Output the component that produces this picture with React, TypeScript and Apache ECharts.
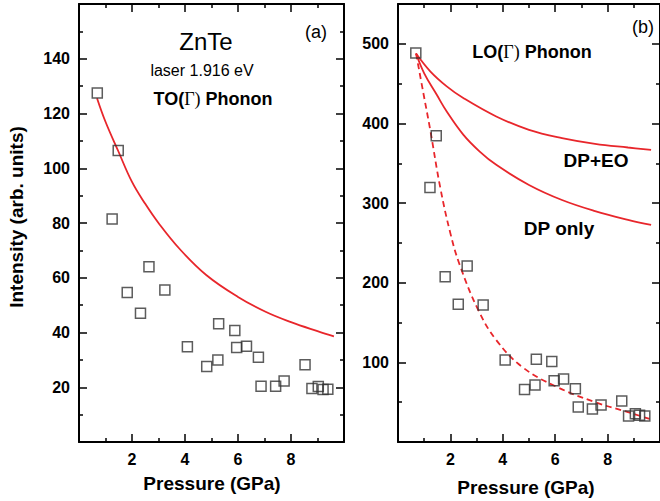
import React, { useEffect, useRef } from "react";
import * as echarts from "echarts";

// ---- data ----
const toPressure = [0.69, 1.48, 1.25, 1.82, 2.64, 2.32, 3.24, 4.09, 4.82, 5.24, 5.27, 5.88, 5.95, 6.32, 6.77, 6.87, 7.42, 7.74, 8.53, 8.79, 9.03, 9.21, 9.39];
const toIntensity = [127.5, 106.5, 81.5, 54.6, 64, 47, 55.5, 34.8, 27.6, 30, 43.2, 40.7, 34.5, 35, 31, 20.4, 20.4, 22.3, 28.2, 19.5, 20.3, 19.2, 19.3];

const loPressure = [0.68, 1.46, 1.22, 1.8, 2.64, 2.3, 3.25, 4.09, 4.83, 5.23, 5.28, 5.87, 5.96, 6.32, 6.77, 6.88, 7.42, 7.75, 8.54, 8.8, 9.06, 9.22, 9.42];
const loIntensity = [488.5, 384.5, 319.5, 207.5, 221, 173, 172, 103, 66, 71.5, 104, 101, 77, 79, 67, 44, 41.5, 46.5, 51.5, 32.5, 35.5, 33.5, 32.5];

const toFitX = [0.68, 1.0, 1.48, 2.0, 2.5, 3.0, 3.8, 4.8, 6.0, 7.06, 8.0, 9.0, 9.62];
const toFitY = [125.6, 117, 106.3, 95, 87, 80, 70.5, 61, 53, 47.5, 43.8, 40.5, 38.6];

const dpeoX = [0.69, 1.23, 1.86, 2.49, 3.75, 5.0, 6.26, 7.52, 8.78, 9.66];
const dpeoY = [487.8, 465.5, 446.6, 432, 408.8, 392, 381.6, 374.4, 369.8, 366.9];

const dpX = [0.69, 1.0, 1.48, 1.86, 2.49, 3.12, 3.75, 5.0, 6.26, 7.52, 8.78, 9.66];
const dpY = [487.8, 463, 436, 415, 386, 364.7, 348, 322.8, 303.9, 290, 279, 272.5];

const fitLoX = [0.69, 0.98, 1.23, 1.61, 2.0, 2.36, 3.06, 3.75, 4.75, 6.01, 7.52, 8.78, 9.6];
const fitLoY = [487.8, 436, 392, 320, 262, 222, 166, 128, 94, 70, 50, 37.5, 29];

const xTicks = { min: 0, max: 10, interval: 2 };
const yTicksA = { min: 0, max: 160, interval: 20 };
const yTicksB = { min: 0, max: 550, interval: 100 };

const FONT = "'Liberation Sans', Arial, Helvetica, sans-serif";
const RED = "#e8262b";

function zip(xs: number[], ys: number[]) {
  return xs.map((x, i) => [x, ys[i]]);
}

function axisBase(showLabel: boolean) {
  return {
    type: "value" as const,
    axisLine: { show: true, onZero: false, lineStyle: { color: "#000", width: 2 } },
    axisTick: { show: true, inside: true, length: 8, lineStyle: { color: "#000", width: 1.5 } },
    minorTick: { show: true, splitNumber: 2, length: 4, lineStyle: { color: "#000", width: 1.5 } },
    splitLine: { show: false },
    minorSplitLine: { show: false },
    axisLabel: {
      show: showLabel,
      showMinLabel: false,
      showMaxLabel: false,
      fontSize: 16,
      fontWeight: "bold" as const,
      color: "#000",
      fontFamily: FONT,
      margin: 9,
    },
  };
}

function phononText(prefix: string) {
  return {
    text: `{b|${prefix}(}{g|Γ)}{b| Phonon}`,
    rich: {
      b: { fontFamily: FONT, fontSize: 18, fontWeight: "bold", fill: "#000" },
      g: { fontFamily: "'Liberation Serif', 'DejaVu Serif', serif", fontSize: 18, fontWeight: "normal", fill: "#000" },
    },
  };
}

function fitLine(xIdx: number, yIdx: number, xs: number[], ys: number[], dashed = false) {
  return {
    type: "line",
    xAxisIndex: xIdx,
    yAxisIndex: yIdx,
    data: zip(xs, ys),
    smooth: 0.4,
    showSymbol: false,
    lineStyle: { color: RED, width: 1.8, type: dashed ? [6, 4] : "solid" },
    z: 2,
  };
}

export default function App() {
  const ref = useRef<HTMLDivElement>(null);
  useEffect(() => {
    if (!ref.current) return;
    const chart = echarts.init(ref.current, undefined, { renderer: "svg" });
    const squares = {
      symbol: "rect",
      symbolSize: 10,
      itemStyle: { color: "rgba(0,0,0,0)", borderColor: "#333", borderWidth: 1.5 },
      z: 3,
    };
    const option: any = {
      animation: false,
      backgroundColor: "#fff",
      grid: [
        { left: 79, top: 4, width: 265, height: 438 },
        { left: 398, top: 4, width: 266, height: 438 },
      ],
      xAxis: [
        { ...axisBase(true), gridIndex: 0, position: "bottom", ...xTicks },
        { ...axisBase(false), gridIndex: 0, position: "top", ...xTicks },
        { ...axisBase(true), gridIndex: 1, position: "bottom", ...xTicks },
        { ...axisBase(false), gridIndex: 1, position: "top", ...xTicks },
      ],
      yAxis: [
        { ...axisBase(true), gridIndex: 0, position: "left", ...yTicksA },
        { ...axisBase(false), gridIndex: 0, position: "right", ...yTicksA },
        { ...axisBase(true), gridIndex: 1, position: "left", ...yTicksB },
        { ...axisBase(false), gridIndex: 1, position: "right", ...yTicksB },
      ],
      series: [
        fitLine(0, 0, toFitX, toFitY),
        { type: "scatter", xAxisIndex: 0, yAxisIndex: 0, data: zip(toPressure, toIntensity), ...squares },
        fitLine(2, 2, dpeoX, dpeoY),
        fitLine(2, 2, dpX, dpY),
        fitLine(2, 2, fitLoX, fitLoY, true),
        { type: "scatter", xAxisIndex: 2, yAxisIndex: 2, data: zip(loPressure, loIntensity), ...squares },
      ],
      graphic: [
        {
          type: "text",
          x: 16,
          y: 217,
          rotation: Math.PI / 2,
          style: { text: "Intensity (arb. units)", font: `bold 19px ${FONT}`, fill: "#000", align: "center", verticalAlign: "middle" },
        },
        {
          type: "text",
          x: 212,
          y: 483,
          style: { text: "Pressure (GPa)", font: `bold 19px ${FONT}`, fill: "#000", align: "center", verticalAlign: "middle" },
        },
        {
          type: "text",
          x: 526,
          y: 487,
          style: { text: "Pressure (GPa)", font: `bold 19px ${FONT}`, fill: "#000", align: "center", verticalAlign: "middle" },
        },
        {
          type: "text",
          x: 206,
          y: 41,
          style: { text: "ZnTe", font: `24px ${FONT}`, fill: "#000", align: "center", verticalAlign: "middle" },
        },
        {
          type: "text",
          x: 202,
          y: 70,
          style: { text: "laser 1.916 eV", font: `16px ${FONT}`, fill: "#000", align: "center", verticalAlign: "middle" },
        },
        {
          type: "text",
          x: 213,
          y: 99,
          style: { ...phononText("TO"), align: "center", verticalAlign: "middle" },
        },
        {
          type: "text",
          x: 316,
          y: 32,
          style: { text: "(a)", font: `18px ${FONT}`, fill: "#000", align: "center", verticalAlign: "middle" },
        },
        {
          type: "text",
          x: 643,
          y: 27,
          style: { text: "(b)", font: `18px ${FONT}`, fill: "#000", align: "center", verticalAlign: "middle" },
        },
        {
          type: "text",
          x: 532,
          y: 52,
          style: { ...phononText("LO"), align: "center", verticalAlign: "middle" },
        },
        {
          type: "text",
          x: 596,
          y: 160,
          style: { text: "DP+EO", font: `bold 19px ${FONT}`, fill: "#000", align: "center", verticalAlign: "middle" },
        },
        {
          type: "text",
          x: 559,
          y: 228,
          style: { text: "DP only", font: `bold 19px ${FONT}`, fill: "#000", align: "center", verticalAlign: "middle" },
        },
      ],
    };
    chart.setOption(option);
    return () => chart.dispose();
  }, []);
  return (
    <div
      ref={ref}
      style={{ position: "fixed", left: 0, top: 0, width: 660, height: 501, background: "#fff" }}
    />
  );
}
